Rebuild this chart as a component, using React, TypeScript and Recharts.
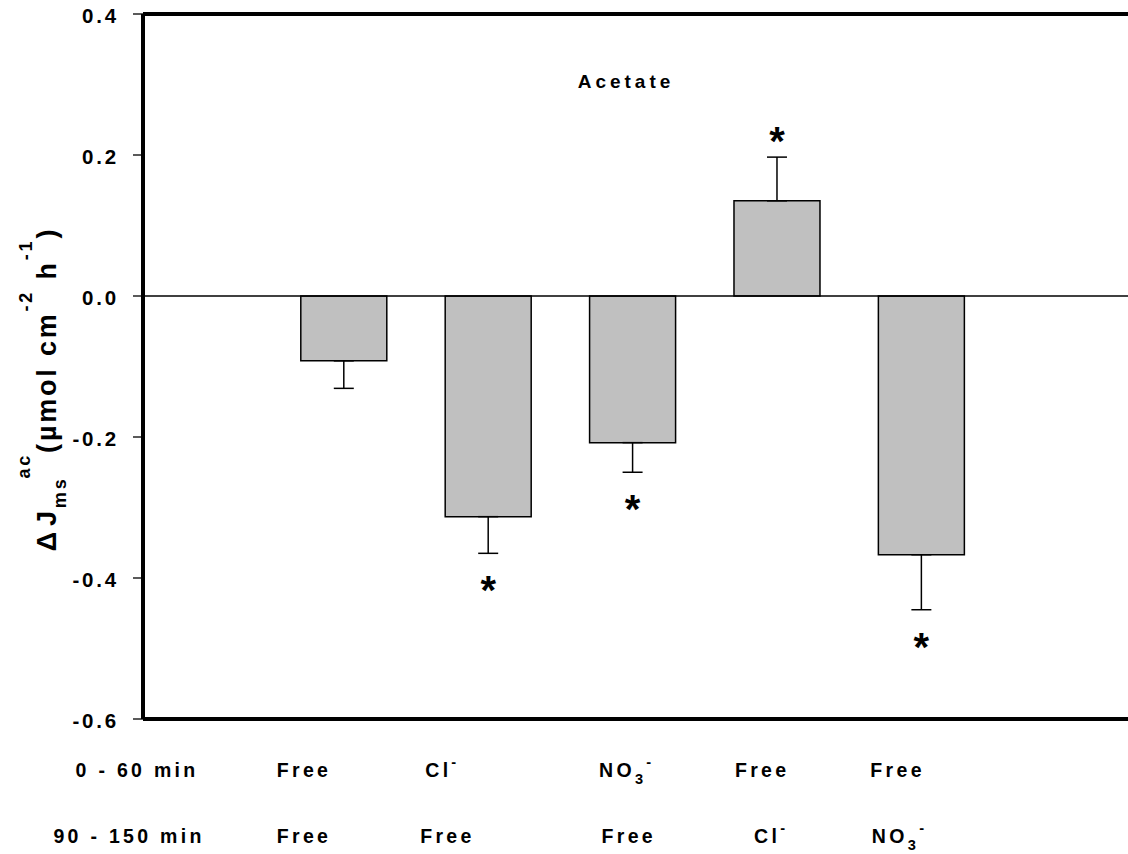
import { Bar, BarChart, ErrorBar, LabelList, ReferenceLine, XAxis, YAxis } from "recharts";

const FONT = "'Liberation Sans', Arial, sans-serif";

// change in acetate flux, second period minus first period
const period1 = ["Free", "Cl-", "NO3-", "Free", "Free"];
const period2 = ["Free", "Free", "Free", "Cl-", "NO3-"];
const deltaJ = [-0.092, -0.313, -0.208, 0.135, -0.367];
const sem = [0.039, 0.052, 0.042, 0.062, 0.078];
const significant = [false, true, true, true, true];
const yTicks = [0.4, 0.2, 0, -0.2, -0.4, -0.6];
const periodNames = ["0 - 60 min", "90 - 150 min"];

const data = deltaJ.map((v, i) => ({
  pos: i + 1,
  value: v,
  // error drawn only away from zero
  err: v < 0 ? [sem[i], 0] : [0, sem[i]],
  sig: significant[i] ? "*" : "",
}));

// hand-placed label nudges in the original figure (px from bar centre)
const LABEL_SHIFT = [
  [-40, -40],
  [-46, -41],
  [-6, -4],
  [-15, -6],
  [-24, -22],
];

function chemSpans(label: string, fs: number) {
  let shift = 0;
  return label.split("").map((ch, i) => {
    let target = 0;
    let size = fs;
    if (/\d/.test(ch)) {
      target = fs * 0.35;
      size = fs * 0.75;
    } else if (ch === "-" && i === label.length - 1) {
      target = -fs * 0.5;
      size = fs * 0.75;
    }
    const dy = target - shift;
    shift = target;
    return (
      <tspan key={i} dy={dy} fontSize={size}>
        {ch}
      </tspan>
    );
  });
}

function CategoryTick(props: any) {
  const { x, y, payload } = props;
  const i = payload.value - 1;
  if (i < 0 || i >= period1.length) return null;
  const style = { fontFamily: FONT, fontWeight: 700, fontSize: 19.5, letterSpacing: 3.3, fill: "#000" };
  return (
    <g>
      <text x={x + LABEL_SHIFT[i][0]} y={y + 58} textAnchor="middle" style={style}>
        {chemSpans(period1[i], 19.5)}
      </text>
      <text x={x + LABEL_SHIFT[i][1]} y={y + 124} textAnchor="middle" style={style}>
        {chemSpans(period2[i], 19.5)}
      </text>
    </g>
  );
}

function ValueTick(props: any) {
  const { x, y, payload } = props;
  return (
    <text
      x={x}
      y={y}
      dy={9}
      textAnchor="end"
      style={{ fontFamily: FONT, fontWeight: 700, fontSize: 20.5, letterSpacing: 2.8, fill: "#000" }}
    >
      {Number(payload.value).toFixed(1)}
    </text>
  );
}

function Asterisk(props: any) {
  const vb = props.viewBox ?? props;
  const { index, value } = props;
  if (!value) return null;
  const x = vb.x ?? props.x;
  const y = vb.y ?? props.y;
  const width = vb.width ?? props.width;
  const height = vb.height ?? props.height;
  const v = deltaJ[index];
  const pxPerUnit = Math.abs(height) / Math.abs(v);
  const top = Math.min(y, y + height);
  const bottom = Math.max(y, y + height);
  const errPx = sem[index] * pxPerUnit;
  const cy = v < 0 ? bottom + errPx + 28 : top - errPx - 25;
  const fs = 40;
  return (
    <text
      x={x + width / 2}
      y={cy + fs * 0.57}
      textAnchor="middle"
      style={{ fontFamily: FONT, fontWeight: 700, fontSize: fs, fill: "#000" }}
    >
      *
    </text>
  );
}

export default function App() {
  const txt = { fontFamily: FONT, fontWeight: 700, fill: "#000" };
  return (
    <div style={{ position: "absolute", left: 0, top: 0, width: 1128, height: 854, overflow: "hidden", background: "#fff" }}>
      <BarChart width={1200} height={854} data={data} margin={{ top: 14, right: 10, bottom: 0, left: 0 }}>
        <XAxis
          dataKey="pos"
          type="number"
          domain={[-0.392, 6.859]}
          ticks={[1, 2, 3, 4, 5]}
          interval={0}
          allowDataOverflow
          height={135}
          tickLine={false}
          tickSize={0}
          tickMargin={0}
          axisLine={{ stroke: "#000", strokeWidth: 4 }}
          tick={<CategoryTick />}
        />
        <YAxis
          type="number"
          domain={[-0.6, 0.4]}
          ticks={yTicks}
          width={143}
          tickSize={10}
          tickMargin={14}
          axisLine={{ stroke: "#000", strokeWidth: 4 }}
          tickLine={{ stroke: "#000", strokeWidth: 1.3 }}
          tick={<ValueTick />}
        />
        <ReferenceLine y={0.4} stroke="#000" strokeWidth={4} />
        <ReferenceLine y={0} stroke="#000" strokeWidth={1.3} />
        <Bar dataKey="value" barSize={86} fill="#c0c0c0" stroke="#000" strokeWidth={1.5} isAnimationActive={false}>
          <ErrorBar dataKey="err" direction="y" width={10} stroke="#000" strokeWidth={1.5} />
          <LabelList dataKey="sig" content={<Asterisk />} />
        </Bar>
        <text x={626} y={88} textAnchor="middle" style={{ ...txt, fontSize: 19, letterSpacing: 4 }}>
          Acetate
        </text>
        {periodNames.map((name, i) => (
          <text key={name} x={i === 0 ? 137 : 129} y={i === 0 ? 777 : 843} textAnchor="middle" style={{ ...txt, fontSize: 19.5, letterSpacing: 3.3 }}>
            {name}
          </text>
        ))}
        <text transform="translate(56, 389) rotate(-90)" textAnchor="middle" style={{ ...txt, fontSize: 27, letterSpacing: 2.8 }}>
          <tspan>Δ</tspan>
          <tspan dx={3}>J</tspan>
          <tspan dy={10} fontSize={18}>ms</tspan>
          <tspan dy={-36} dx={-2} fontSize={18}>ac</tspan>
          <tspan dy={26}>(µmol cm</tspan>
          <tspan dy={-24} fontSize={18}>-2</tspan>
          <tspan dy={24}> h</tspan>
          <tspan dy={-24} fontSize={18}>-1</tspan>
          <tspan dy={24}>)</tspan>
        </text>
      </BarChart>
    </div>
  );
}
